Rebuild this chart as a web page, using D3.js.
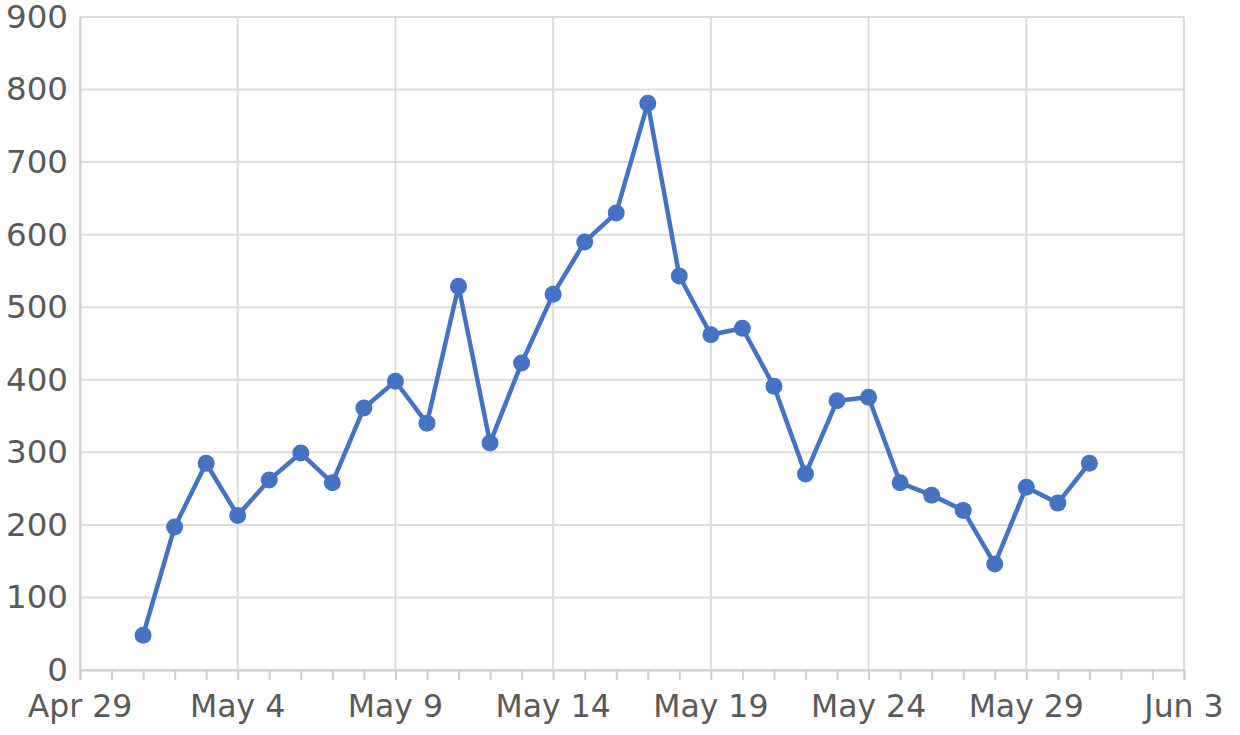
<!DOCTYPE html>
<html><head><meta charset="utf-8">
<script src="https://cdn.jsdelivr.net/npm/d3@7"></script>
<style>body{margin:0;background:#fff}svg{display:block}</style>
</head><body>
<svg id="c" width="1240" height="735"></svg>
<script>
const dates = ["2024-05-01","2024-05-02","2024-05-03","2024-05-04","2024-05-05","2024-05-06","2024-05-07","2024-05-08","2024-05-09","2024-05-10","2024-05-11","2024-05-12","2024-05-13","2024-05-14","2024-05-15","2024-05-16","2024-05-17","2024-05-18","2024-05-19","2024-05-20","2024-05-21","2024-05-22","2024-05-23","2024-05-24","2024-05-25","2024-05-26","2024-05-27","2024-05-28","2024-05-29","2024-05-30","2024-05-31"];
const values = [48,197,285,213,262,299,258,361,398,340,529,313,423,518,590,630,781,543,462,471,391,270,371,376,258,241,220,146,252,230,285];
const yTicks = [0,100,200,300,400,500,600,700,800,900];
const xTickLabels = ["Apr 29","May 4","May 9","May 14","May 19","May 24","May 29","Jun 3"];
const xTickDates = ["2024-04-29","2024-05-04","2024-05-09","2024-05-14","2024-05-19","2024-05-24","2024-05-29","2024-06-03"];

const parse = d3.utcParse("%Y-%m-%d");
const svg = d3.select("#c");
const m = {l:80, r:56, t:17, b:65};
const W = 1240, H = 735;
const x = d3.scaleUtc().domain([parse("2024-04-29"), parse("2024-06-03")]).range([m.l, W - m.r]);
const y = d3.scaleLinear().domain([0, 900]).range([H - m.b, m.t]);
const font = "DejaVu Sans, sans-serif";
const grid = "#dcdcdc";

// horizontal grid
svg.append("g").selectAll("line").data(yTicks).join("line")
  .attr("x1", m.l).attr("x2", W - m.r).attr("y1", d => y(d)).attr("y2", d => y(d))
  .attr("stroke", grid).attr("stroke-width", 2);
// vertical grid
const xt = xTickDates.map(parse);
svg.append("g").selectAll("line").data(xt).join("line")
  .attr("x1", d => x(d)).attr("x2", d => x(d)).attr("y1", m.t).attr("y2", H - m.b)
  .attr("stroke", grid).attr("stroke-width", 2);

// x axis
const xAxis = d3.axisBottom(x).ticks(d3.utcDay.every(1)).tickSize(10).tickFormat("");
const gx = svg.append("g").attr("transform", `translate(0,${H - m.b})`).call(xAxis);
gx.select(".domain").attr("stroke", "#cfcfcf").attr("stroke-width", 2);
gx.selectAll(".tick line").attr("stroke", "#cfcfcf").attr("stroke-width", 2);
svg.append("g").selectAll("text").data(xt).join("text")
  .attr("x", d => x(d)).attr("y", H - m.b + 47)
  .attr("text-anchor", "middle").attr("font-family", font)
  .attr("font-size", 31.5).attr("fill", "#595959")
  .text((d, i) => xTickLabels[i]);

// y axis
const yAxis = d3.axisLeft(y).tickValues(yTicks).tickSize(0).tickPadding(12);
const gy = svg.append("g").attr("transform", `translate(${m.l},0)`).call(yAxis);
gy.select(".domain").attr("stroke", "#cfcfcf").attr("stroke-width", 2);
gy.selectAll("text").attr("font-family", font).attr("font-size", 32.5).attr("fill", "#595959");

// line
const pts = dates.map((d, i) => ({d: parse(d), v: values[i]}));
svg.append("path").datum(pts)
  .attr("fill", "none").attr("stroke", "#4472c4").attr("stroke-width", 4.5).attr("stroke-linejoin", "round")
  .attr("d", d3.line().x(p => x(p.d)).y(p => y(p.v)));
svg.append("g").selectAll("circle").data(pts).join("circle")
  .attr("cx", p => x(p.d)).attr("cy", p => y(p.v)).attr("r", 8.5).attr("fill", "#4472c4");
</script>
</body></html>
